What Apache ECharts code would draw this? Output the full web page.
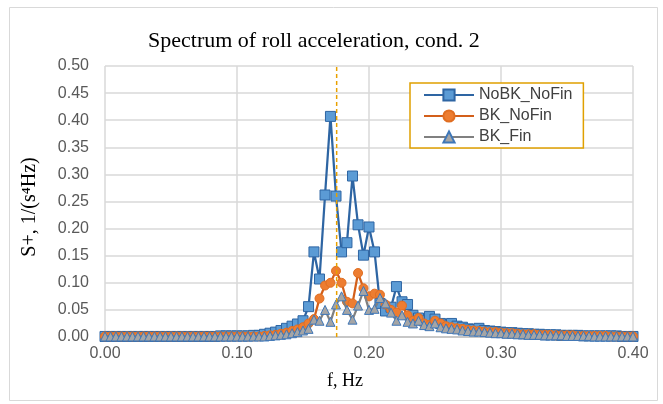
<!DOCTYPE html>
<html>
<head>
<meta charset="utf-8">
<script src="https://cdn.jsdelivr.net/npm/echarts@6/dist/echarts.min.js"></script>
<style>
html,body{margin:0;padding:0;background:#fff;}
#c{width:663px;height:404px;}
</style>
</head>
<body>
<div id="c"></div>
<script>
// Frequencies (Hz)
var freq = [0,0.0042,0.0083,0.0125,0.0167,0.0208,0.025,0.0292,0.0333,0.0375,0.0417,0.0458,0.05,0.0542,0.0583,0.0625,0.0667,0.0708,0.075,0.0792,0.0833,0.0875,0.0917,0.0958,0.1,0.1042,0.1083,0.1125,0.1167,0.1208,0.125,0.1292,0.1333,0.1375,0.1417,0.1458,0.15,0.1542,0.1583,0.1625,0.1667,0.1708,0.175,0.1792,0.1833,0.1875,0.1917,0.1958,0.2,0.2042,0.2083,0.2125,0.2167,0.2208,0.225,0.2292,0.2333,0.2375,0.2417,0.2458,0.25,0.2542,0.2583,0.2625,0.2667,0.2708,0.275,0.2792,0.2833,0.2875,0.2917,0.2958,0.3,0.3042,0.3083,0.3125,0.3167,0.3208,0.325,0.3292,0.3333,0.3375,0.3417,0.3458,0.35,0.3542,0.3583,0.3625,0.3667,0.3708,0.375,0.3792,0.3833,0.3875,0.3917,0.3958,0.4];

var noBkNoFin = [0.001,0.001,0.001,0.001,0.001,0.001,0.001,0.001,0.001,0.001,0.001,0.001,0.001,0.001,0.001,0.001,0.001,0.001,0.001,0.001,0.001,0.002,0.002,0.002,0.002,
0.002,0.002,0.003,0.003,0.005,0.007,0.009,0.012,0.016,0.020,0.024,0.030,0.056,0.157,0.107,0.262,0.407,0.260,0.157,0.174,0.297,0.207,0.151,0.203,0.157,
0.062,0.048,0.055,0.093,0.065,0.060,0.040,0.035,0.030,0.038,0.033,0.025,0.022,0.025,0.020,0.018,0.015,0.014,0.016,0.012,0.011,0.010,0.009,0.008,0.008,0.007,0.006,0.006,0.005,0.005,0.004,0.004,0.004,0.003,0.003,0.003,0.003,0.002,0.002,0.002,0.002,0.002,0.002,0.002,0.001,0.001,0.001];

var bkNoFin = [0.001,0.001,0.001,0.001,0.001,0.001,0.001,0.001,0.001,0.001,0.001,0.001,0.001,0.001,0.001,0.001,0.001,0.001,0.001,0.001,0.001,0.001,0.001,0.001,0.001,
0.001,0.001,0.001,0.001,0.002,0.003,0.004,0.006,0.008,0.011,0.014,0.018,0.025,0.033,0.071,0.095,0.100,0.122,0.100,0.065,0.062,0.118,0.090,0.075,0.080,
0.078,0.060,0.050,0.045,0.058,0.040,0.030,0.035,0.025,0.022,0.030,0.025,0.020,0.018,0.016,0.015,0.013,0.012,0.011,0.010,0.009,0.009,0.008,0.007,0.007,0.006,0.005,0.005,0.005,0.004,0.004,0.004,0.003,0.003,0.003,0.003,0.002,0.002,0.002,0.002,0.002,0.002,0.001,0.001,0.001,0.001,0.001];

var bkFin = [0.001,0.001,0.001,0.001,0.001,0.001,0.001,0.001,0.001,0.001,0.001,0.001,0.001,0.001,0.001,0.001,0.001,0.001,0.001,0.001,0.001,0.001,0.001,0.001,0.001,
0.001,0.001,0.001,0.001,0.001,0.002,0.003,0.004,0.005,0.007,0.009,0.012,0.015,0.032,0.030,0.050,0.028,0.060,0.075,0.050,0.032,0.058,0.085,0.050,0.052,
0.072,0.062,0.045,0.030,0.040,0.028,0.025,0.030,0.022,0.020,0.025,0.018,0.016,0.015,0.014,0.012,0.011,0.010,0.010,0.009,0.008,0.007,0.007,0.006,0.006,0.005,0.005,0.004,0.004,0.004,0.003,0.003,0.003,0.003,0.002,0.002,0.002,0.002,0.002,0.001,0.001,0.001,0.001,0.001,0.001,0.001,0.001];

var seriesNames = ['NoBK_NoFin','BK_NoFin','BK_Fin'];
var markFreq = 0.1755;
var markRange = [0, 0.5];

function pairs(v){ return freq.map(function(f,i){ return [f, v[i]]; }); }

var chart = echarts.init(document.getElementById('c'));
var sans = 'Liberation Sans';
var serif = 'Liberation Serif';
chart.setOption({
  animation:false,
  backgroundColor:'#fff',
  title:{
    text:'Spectrum of roll acceleration, cond. 2',
    left:143, top:25,
    textStyle:{fontFamily:serif, fontSize:22, fontWeight:'normal', color:'#000'}
  },
  graphic:[
    {type:'rect', left:7, top:5, shape:{width:648, height:393}, style:{fill:'none', stroke:'#D9D9D9', lineWidth:1}},
    {type:'text', style:{text:'f, Hz', x:345, y:381, textAlign:'center', textVerticalAlign:'middle', font:'18px "Liberation Serif"', fill:'#000'}},
    {type:'text', rotation:Math.PI/2, x:30, y:207, style:{text:'S+, 1/(s\u2074Hz)', textAlign:'center', textVerticalAlign:'middle', font:'20px "Liberation Serif"', fill:'#000'}}
  ],
  legend:{
    orient:'vertical', left:410, top:83,
    padding:[4,11,3,13],
    itemGap:5, itemWidth:50, itemHeight:14,
    borderColor:'#E0A000', borderWidth:1.5, backgroundColor:'#fff',
    textStyle:{fontFamily:sans, fontSize:16, color:'#404040'},
    data:seriesNames
  },
  grid:{left:105, right:30, top:66, bottom:67},
  xAxis:{
    type:'value', min:0, max:0.4, interval:0.1,
    axisLine:{show:true, lineStyle:{color:'#BFBFBF', width:1.5}},
    axisTick:{show:false},
    axisLabel:{fontFamily:sans, fontSize:16, color:'#595959', margin:9, formatter:function(v){return v.toFixed(2);}},
    splitLine:{show:true, lineStyle:{color:'#D9D9D9', width:1.5}}
  },
  yAxis:{
    type:'value', min:0, max:0.5, interval:0.05,
    axisLine:{show:false}, axisTick:{show:false},
    axisLabel:{fontFamily:sans, fontSize:16, color:'#595959', margin:16, formatter:function(v){return v.toFixed(2);}},
    splitLine:{show:true, lineStyle:{color:'#D9D9D9', width:1.5}}
  },
  series:[
    {name:seriesNames[0], type:'line', data:pairs(noBkNoFin), symbol:'rect', symbolSize:10, z:2,
     lineStyle:{color:'#2E65A3', width:2.25},
     itemStyle:{color:'#5B9BD5', borderColor:'#2E65A3', borderWidth:1}},
    {name:seriesNames[1], type:'line', data:pairs(bkNoFin), symbol:'circle', symbolSize:9, z:3,
     lineStyle:{color:'#D35F1A', width:2.25},
     itemStyle:{color:'#ED7D31', borderColor:'#E06E22', borderWidth:1}},
    {name:seriesNames[2], type:'line', data:pairs(bkFin), symbol:'triangle', symbolSize:9, z:4,
     lineStyle:{color:'#808080', width:2.25},
     itemStyle:{color:'#A5A5A5', borderColor:'#3F77B8', borderWidth:1}},
    {name:'marker', type:'line', data:[[markFreq, markRange[0]],[markFreq, markRange[1]]], symbol:'none', silent:true,
     lineStyle:{color:'#E8A000', type:[4,3], width:1.5}, z:5}
  ]
});
</script>
</body>
</html>
